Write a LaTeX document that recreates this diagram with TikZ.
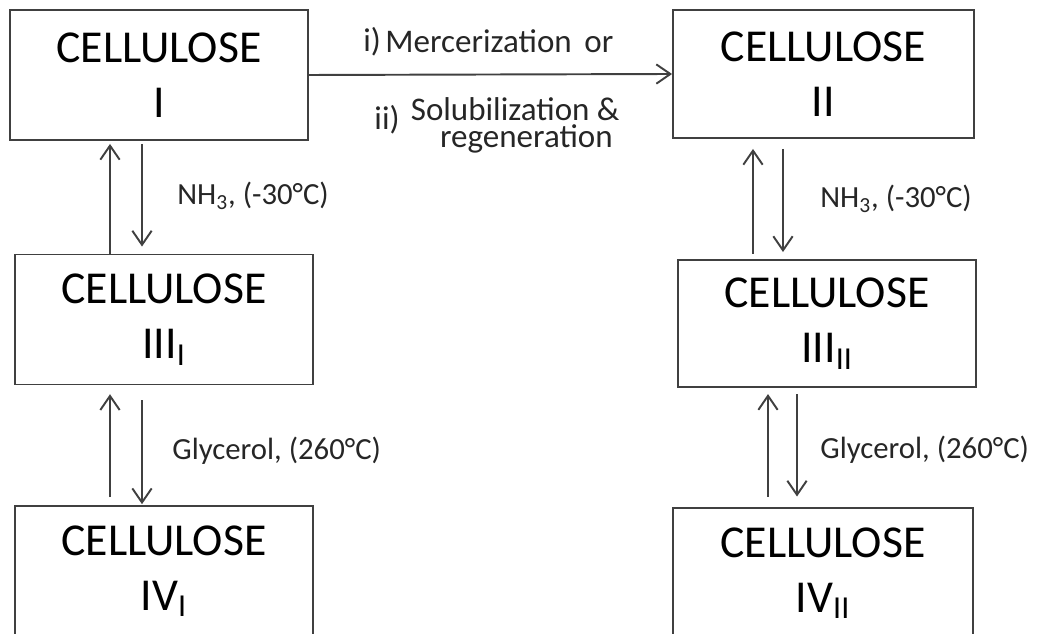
\documentclass[tikz,border=0pt]{standalone}
\usepackage{fontspec}
\setmainfont{Carlito}
\usetikzlibrary{arrows.meta}
\begin{document}
\begin{tikzpicture}[x=0.02cm,y=-0.02cm,
    cbox/.style={draw=black!75,line width=1.1pt,minimum width=5.96cm,minimum height=2.6cm,
      inner sep=0pt,align=center,font=\fontsize{26}{31.3}\selectfont},
    lbl/.style={font=\fontsize{17.5}{13}\selectfont,text=black!85,inner sep=0pt},
    tlbl/.style={lbl,font=\fontsize{18.8}{15.5}\selectfont},
    rx/.style={draw=black!75,line width=1.1pt,-{Straight Barb[length=8pt,width=11pt]}}]
  \useasboundingbox (0,0) rectangle (1042,634);
  \clip (0,0) rectangle (1042,634);
  % the six forms
  \node (c1) [cbox] at (159,75) {CELLULOSE\\I};
  \node (c2) [cbox,minimum width=6.02cm,minimum height=2.56cm] at (823.5,74) {CELLULOSE\\II};
  \node (c3a) [cbox] at (164,319.5) {CELLULOSE\\III\textsubscript{I}};
  \node (c3b) [cbox,minimum height=2.54cm] at (827,323.5) {CELLULOSE\\III\textsubscript{II}};
  \node (c4a) [cbox] at (164,571) {CELLULOSE\\IV\textsubscript{I}};
  \node (c4b) [cbox,minimum width=6.0cm] at (823,573) {CELLULOSE\\IV\textsubscript{II}};
  % I -> II
  \draw[rx] (c1.east) -- (c2.west);
  \node (m1) [tlbl,anchor=base west] at (363,52) {i)};
  \node (m2) [tlbl,anchor=base west] at (385,53) {Mercerization};
  \node (m3) [tlbl,anchor=base west] at (584,53) {or};
  \node (s0) [tlbl,anchor=base east] at (400,130) {ii)};
  \node (s1) [tlbl,anchor=north east,align=right] at (620,97)
    {Solubilization \&\\regeneration\hspace*{4pt}};
  % left column
  \coordinate (ua) at (110,0);
  \coordinate (da) at (142,0);
  \draw[rx,shorten >=1.7pt] (c3a.north -| ua) -- (c1.south -| ua);
  \draw[rx,shorten <=1.7pt,shorten >=4pt] (c1.south -| da) -- (c3a.north -| da);
  \draw[rx,shorten <=4.5pt,shorten >=5pt] (c4a.north -| ua) -- (c3a.south -| ua);
  \draw[rx,shorten <=8.5pt,shorten >=0.5pt] (c3a.south -| da) -- (c4a.north -| da);
  \node (n1) [lbl,anchor=base west] at (177,205) {NH\textsubscript{3}, (-30°C)};
  \node (g1) [lbl,anchor=base west] at (172,460) {Glycerol, (260°C)};
  % right column
  \coordinate (ub) at (753,0);
  \coordinate (db) at (783,0);
  \coordinate (uc) at (768,0);
  \coordinate (dc) at (797,0);
  \draw[rx,shorten <=3pt,shorten >=5.7pt] (c3b.north -| ub) -- (c2.south -| ub);
  \draw[rx,shorten <=5.7pt,shorten >=4pt] (c2.south -| db) -- (c3b.north -| db);
  \draw[rx,shorten <=6pt,shorten >=3.5pt] (c4b.north -| uc) -- (c3b.south -| uc);
  \draw[rx,shorten <=3.5pt,shorten >=6pt] (c3b.south -| dc) -- (c4b.north -| dc);
  \node (n2) [lbl,anchor=base west] at (820,208) {NH\textsubscript{3}, (-30°C)};
  \node (g2) [lbl,anchor=base west] at (820,459) {Glycerol, (260°C)};
\end{tikzpicture}
\end{document}
